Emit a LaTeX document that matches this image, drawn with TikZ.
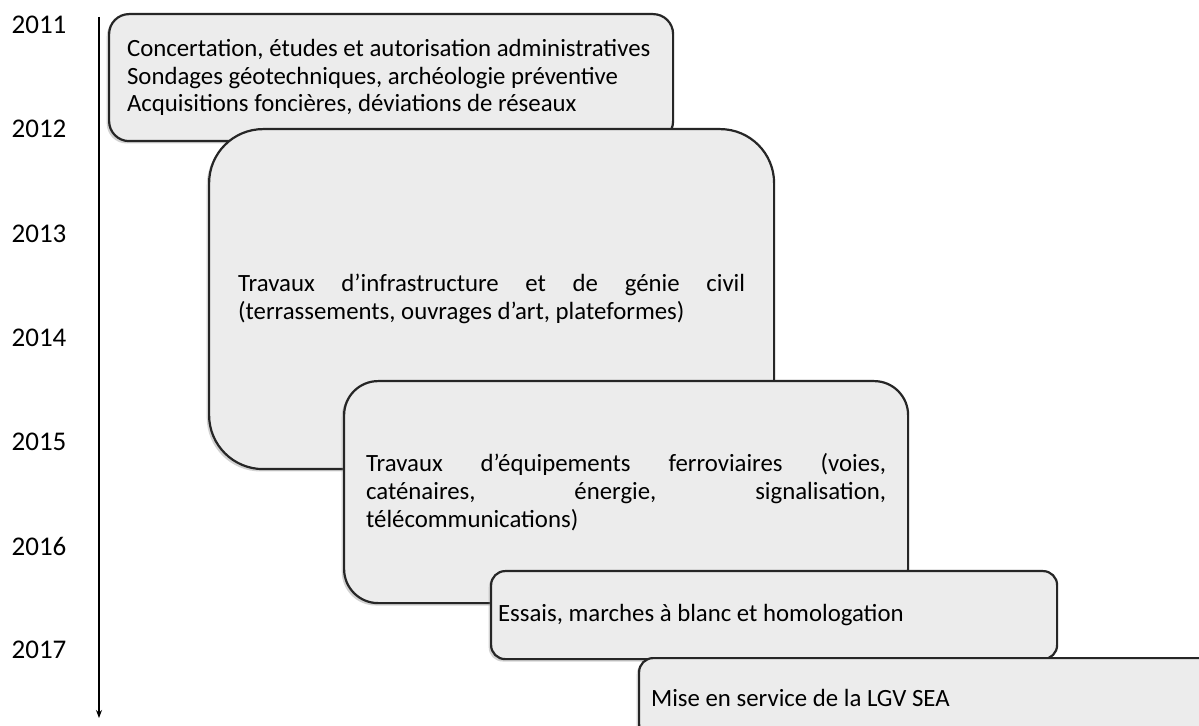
\documentclass[tikz,border=0pt]{standalone}
\usepackage{fontspec}
\setmainfont{Carlito}
\usetikzlibrary{arrows.meta,shadows}

\tikzset{
    phase/.style={draw=black!85, line width=1.1pt, fill=gray!15,
        rounded corners=#1, anchor=north west, align=justify,
        inner ysep=0pt,
        drop shadow={shadow xshift=-1.2pt, shadow yshift=-1.2pt, opacity=.35}},
    year/.style={font=\fontsize{13.5}{15}\selectfont}
}

\begin{document}
\begin{tikzpicture}[x=0.5pt, y=-0.5pt, font=\fontsize{12.4}{13.8}\selectfont]
            \clip (0,0) rectangle (1199,726);
            \fill[white] (0,0) rectangle (1199,726);
            % time axis
            \coordinate (axtop) at (99,17);
            \coordinate (axbot) at (99,718);
            \draw[line width=0.6pt, -{Stealth[length=4pt, width=3pt]}] (axtop) -- (axbot);
            \foreach \yr [count=\i from 0] in {2011,2012,2013,2014,2015,2016,2017} {
                    \node[year] (y\yr) at (39, 25+104.2*\i) {\yr};
                }
            % phases
            \node[phase=10pt, minimum height=63.5pt, text width=264pt, inner xsep=9pt] (etudes) at (108,13)
                {Concertation, études et autorisation administratives\\
                 Sondages géotechniques, archéologie préventive\\
                 Acquisitions foncières, déviations de réseaux};
            \node[phase=27pt, minimum height=170pt, text width=253.5pt, inner xsep=14.5pt] (genie) at (208,128)
                {Travaux d’infrastructure et de génie civil\linebreak
                 (terrassements, ouvrages d’art, plateformes)};
            \node[phase=17pt, minimum height=111pt, text width=260pt, inner xsep=11pt] (equip) at (343,380)
                {Travaux d’équipements ferroviaires (voies,\linebreak
                 caténaires, énergie, signalisation,\linebreak
                 télécommunications)};
            \node[phase=7pt, minimum height=44pt, text width=276pt, inner xsep=3.5pt] (essais) at (490,570)
                {Essais, marches à blanc et homologation};
            \node[phase=7pt, minimum height=40pt, text width=288pt, inner xsep=6pt] (service) at (638,657)
                {Mise en service de la LGV SEA};
        \end{tikzpicture}
\end{document}
